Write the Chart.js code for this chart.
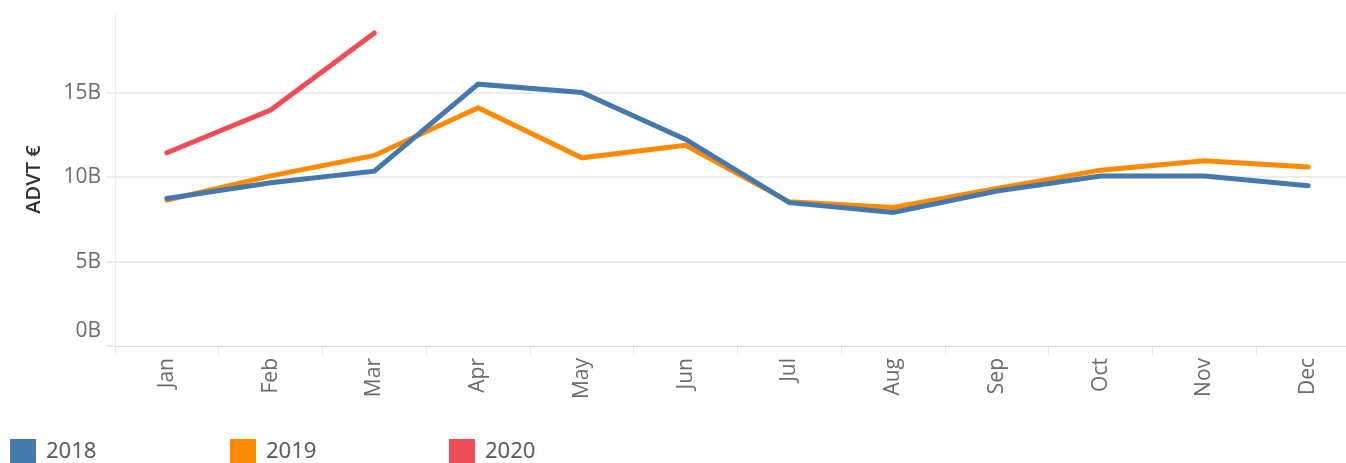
<!DOCTYPE html>
<html lang="en">
<head>
  <meta charset="UTF-8" />
  <title>ADVT by month</title>
  <script src="https://cdn.jsdelivr.net/npm/chart.js@4"></script>
  <style>
    body { margin: 0; background: #fff; overflow: hidden; width: 1346px; height: 463px; position: relative; }
    #wrap { position: absolute; left: 0; top: 0; }
    .legend { position: absolute; top: 439px; left: 0; font-family: "Open Sans", sans-serif; font-size: 22px; color: #555; }
    .legend span.item { position: absolute; white-space: nowrap; }
    .legend i { position: absolute; left: 0; top: 0; width: 26px; height: 24px; }
    .legend b { position: absolute; left: 36px; top: -5px; font-weight: normal; }
  </style>
</head>
<body>

  <div id="wrap"><canvas id="advtChart" width="1360" height="420"></canvas></div>
  <div class="legend" id="legend"></div>

  <script>
    // Data (billions of euro)
    const months = ["Jan", "Feb", "Mar", "Apr", "May", "Jun", "Jul", "Aug", "Sep", "Oct", "Nov", "Dec"];
    const advt2018 = [8.75, 9.68, 10.37, 15.53, 15.04, 12.25, 8.5, 7.92, 9.19, 10.08, 10.08, 9.5];
    const advt2019 = [8.65, 10.09, 11.3, 14.13, 11.16, 11.9, 8.55, 8.22, 9.35, 10.43, 10.99, 10.61];
    const advt2020 = [11.46, 13.99, 18.57];
    const yTicks = [0, 5, 10, 15];
    const yTickLabels = ["0B", "5B", "10B", "15B"];
    const seriesNames = ["2018", "2019", "2020"];
    const seriesColors = ["#4579ab", "#ff8a00", "#f04c55"];

    const gridColor = "#ececec";
    const labelColor = "#6b6b6b";

    // y labels drawn by hand so "0B" can sit above the dashed zero line
    const yLabelPlugin = {
      id: "yLabels",
      afterDraw(chart) {
        const ctx = chart.ctx;
        const y = chart.scales.y;
        ctx.save();
        ctx.font = "21px 'Open Sans', sans-serif";
        ctx.fillStyle = labelColor;
        ctx.textAlign = "right";
        ctx.textBaseline = "middle";
        yTicks.forEach((v, i) => {
          let py = y.getPixelForValue(v);
          if (v === 0) py -= 15;
          ctx.fillText(yTickLabels[i], 101, py);
        });
        ctx.restore();
      }
    };

    const datasets = [advt2018, advt2019, advt2020].map((d, i) => ({
      label: seriesNames[i],
      data: d,
      borderColor: seriesColors[i],
      backgroundColor: seriesColors[i],
      borderWidth: 5,
      borderCapStyle: "round",
      pointRadius: 0,
      tension: 0,
      fill: false,
      order: i // 2018 on top
    }));

    new Chart(document.getElementById("advtChart").getContext("2d"), {
      type: "line",
      data: { labels: months, datasets: datasets },
      options: {
        responsive: false,
        animation: false,
        devicePixelRatio: 1,
        layout: { padding: { top: 13, left: 0, right: 0, bottom: 0 } },
        plugins: {
          legend: { display: false },
          tooltip: { enabled: false }
        },
        scales: {
          x: {
            offset: true,
            grid: { offset: true, drawOnChartArea: false, color: "#e6e6e6", tickLength: 9 },
            border: { display: true, color: "#d9d9d9", dash: [3, 3] },
            ticks: {
              color: labelColor,
              font: { family: "'Open Sans', sans-serif", size: 21 },
              minRotation: 90,
              maxRotation: 90,
              padding: 3,
              autoSkip: false
            },
            afterFit(scale) { scale.height = 74; }
          },
          y: {
            min: 0,
            max: 19.75,
            grid: {
              color: (c) => (c.tick && c.tick.value === 0 ? "rgba(0,0,0,0)" : gridColor),
              tickColor: gridColor,
              tickLength: 9,
              lineWidth: 2
            },
            border: { display: true, color: "#eaeaea" },
            ticks: { display: false, stepSize: 5, includeBounds: false },
            title: {
              display: true,
              text: "ADVT €",
              color: "#333",
              font: { family: "'Open Sans', sans-serif", size: 20, weight: "600" },
              padding: { top: 22, bottom: 0 }
            },
            afterFit(scale) { scale.width = 115; }
          }
        }
      },
      plugins: [yLabelPlugin]
    });

    // legend
    const legendEl = document.getElementById("legend");
    const legendX = [10, 230, 449];
    seriesNames.forEach((name, i) => {
      const item = document.createElement("span");
      item.className = "item";
      item.style.left = legendX[i] + "px";
      item.innerHTML = '<i style="background:' + seriesColors[i] + '"></i><b>' + name + "</b>";
      legendEl.appendChild(item);
    });
  </script>
</body>
</html>
